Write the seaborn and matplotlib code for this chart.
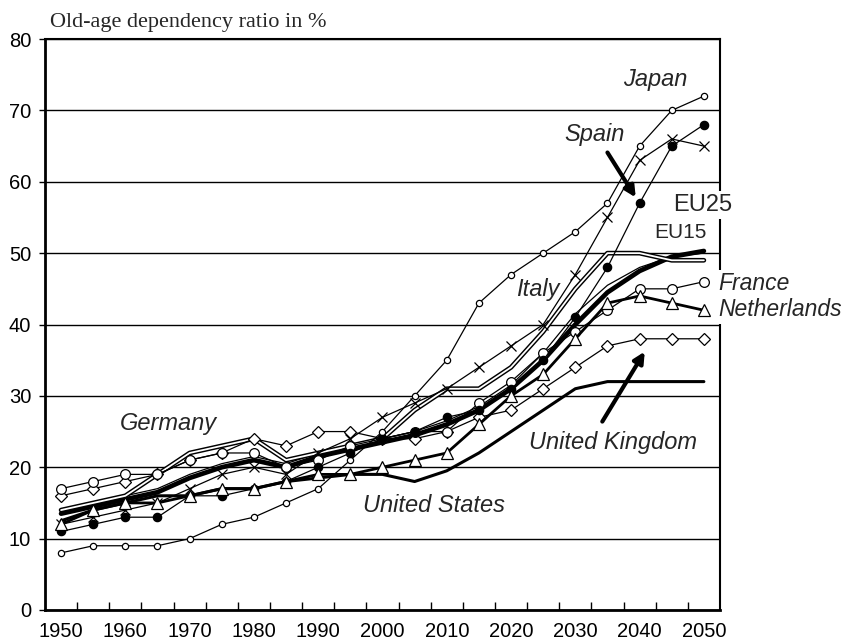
import numpy as np
import pandas as pd
import seaborn as sns
import matplotlib.pyplot as plt

years = list(range(1950, 2051, 5))

japan = [8, 9, 9, 9, 10, 12, 13, 15, 17, 21, 25, 30, 35, 43, 47, 50, 53, 57, 65, 70, 72]
italy = [12, 13, 14, 15, 17, 19, 20, 19, 22, 24, 27, 29, 31, 34, 37, 40, 47, 55, 63, 66, 65]
spain = [11, 12, 13, 13, 16, 16, 17, 18, 20, 22, 24, 25, 27, 28, 31, 35, 41, 48, 57, 65, 68]
germany = [14, 15, 16, 19, 22, 23, 24, 21, 22, 23, 24, 28, 31, 31, 34, 39, 45, 50, 50, 49, 49]
eu15 = [14, 15, 16, 17, 19, 20.5, 21.5, 20.5, 22, 23, 24, 25, 26.5, 28.5, 31.5, 36, 41.5, 45.5, 48, 49.5, 50]
eu25 = [13.5, 14.5, 15.5, 16.5, 18.5, 20, 21, 20, 21.5, 22.5, 23.5, 24.5, 26, 28, 31, 35, 40, 44.5, 47.5, 49.5, 50.3]
france = [17, 18, 19, 19, 21, 22, 22, 20, 21, 23, 24, 25, 25, 29, 32, 36, 39, 42, 45, 45, 46]
netherlands = [12, 14, 15, 15, 16, 17, 17, 18, 19, 19, 20, 21, 22, 26, 30, 33, 38, 43, 44, 43, 42]
uk = [16, 17, 18, 19, 21, 22, 24, 23, 25, 25, 24, 24, 25, 27, 28, 31, 34, 37, 38, 38, 38]
us = [12.5, 14, 15, 16, 16, 17, 17, 18, 18.5, 19, 19, 18, 19.5, 22, 25, 28, 31, 32, 32, 32, 32]

sns.set_style("white")
plt.rcParams['font.family'] = ['Liberation Sans', 'DejaVu Sans']

fig, ax = plt.subplots(figsize=(8.46, 6.4), dpi=100)
fig.subplots_adjust(left=0.0532, right=0.851, bottom=0.0469, top=0.939)

def draw(vals, lw=0.9, marker=None, ms=6, face='white', color='black', z=3):
    sns.lineplot(x=years, y=vals, ax=ax, color=color, lw=lw, marker=marker,
                 markersize=ms, markerfacecolor=face, markeredgecolor='black',
                 markeredgewidth=0.9, zorder=z)

# thick lines first
draw(us, lw=2.2)
draw(eu25, lw=3.4)
draw(eu15, lw=0.9)
# Germany as double line
draw(germany, lw=3.4)
draw(germany, lw=1.3, color='white')
draw(uk, marker='D', ms=6)
draw(france, marker='o', ms=7)
draw(japan, marker='o', ms=4.5)
draw(spain, marker='o', ms=6, face='black')
draw(italy, marker='x', ms=7)
draw(netherlands, lw=2.0, marker='^', ms=8)

ax.set_xlim(1947.5, 2052.5)
ax.set_ylim(0, 80)
ax.set_xticks(range(1950, 2051, 10))
ax.set_xticks(np.arange(1952.5, 2050, 5), minor=True)
ax.set_yticks(range(0, 81, 10))
ax.tick_params(axis='x', which='major', length=0, pad=9, labelsize=14.5, colors='black')
ax.tick_params(axis='x', which='minor', direction='in', length=6, width=1, color='black', bottom=True)
ax.tick_params(axis='y', which='major', direction='out', length=4, width=1, pad=6,
               labelsize=14.5, left=True, colors='black')
ax.yaxis.grid(True, color='black', lw=1)
ax.xaxis.grid(False)
ax.set_axisbelow(True)
ax.set_xlabel('')
ax.set_ylabel('')
for s in ax.spines.values():
    s.set_color('black')
    s.set_linewidth(1.5)
ax.spines['left'].set_linewidth(2)
ax.spines['bottom'].set_linewidth(2)

fig.text(50 / 846, 1 - 22 / 640, 'Old-age dependency ratio in %', family='Liberation Serif',
         fontsize=16, va='center', ha='left')

lab = dict(fontsize=17, style='italic', ha='center', va='center')
box = dict(facecolor='white', edgecolor='none', pad=2)
ax.text(2042.5, 74.3, 'Japan', **lab)
ax.text(2033, 66.6, 'Spain', **lab)
ax.text(2024.1, 44.9, 'Italy', **lab)
ax.text(1966.7, 26.1, 'Germany', **lab)
ax.text(2008, 14.7, 'United States', **lab)
ax.text(2035.8, 23.5, 'United Kingdom', **lab)
ax.text(2049.8, 56.7, 'EU25', fontsize=17, ha='center', va='center', bbox=box, zorder=6)
ax.text(2046.3, 52.9, 'EU15', fontsize=15, ha='center', va='center', zorder=6)
ax.text(2052.3, 45.7, 'France', fontsize=16.5, style='italic', ha='left', va='center', bbox=box, zorder=6)
ax.text(2052.3, 42.1, 'Netherlands', fontsize=16.5, style='italic', ha='left', va='center', bbox=box, zorder=6)

arrow = dict(arrowstyle='-|>', lw=3, color='black', mutation_scale=16, shrinkA=0, shrinkB=0)
ax.annotate('', xy=(2039.4, 57.8), xytext=(2035, 64.1), arrowprops=arrow)
ax.annotate('', xy=(2040.8, 36.2), xytext=(2034.2, 26.4), arrowprops=arrow)

fig.savefig('out.png', dpi=100)
